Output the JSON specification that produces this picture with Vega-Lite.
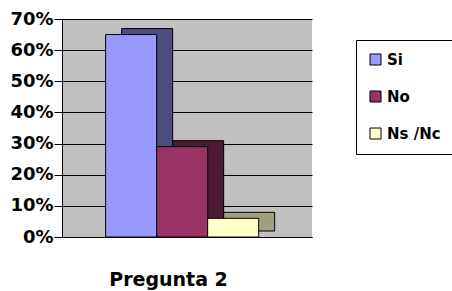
{
  "$schema": "https://vega.github.io/schema/vega-lite/v6.json",
  "autosize": {"type": "none"},
  "padding": {"left": 62, "top": 19, "right": 140, "bottom": 54},
  "width": 250,
  "height": 218,
  "background": "white",
  "config": {
    "view": {"fill": "#c0c0c0", "stroke": null},
    "font": "DejaVu Sans"
  },
  "data": {
    "values": [
      {"serie": "Si", "valor": 0.65},
      {"serie": "No", "valor": 0.29},
      {"serie": "Ns /Nc", "valor": 0.06}
    ]
  },
  "encoding": {
    "x": {
      "field": "serie",
      "type": "nominal",
      "sort": ["Si", "No", "Ns /Nc"],
      "scale": {"paddingInner": 0, "paddingOuter": 0.95, "align": 0.45},
      "axis": {
        "title": "Pregunta 2",
        "labels": false,
        "ticks": false,
        "domain": true,
        "domainColor": "black",
        "titleFont": "DejaVu Sans",
        "titleFontSize": 19,
        "titleFontWeight": "bold",
        "titleColor": "black",
        "titlePadding": 33,
        "titleX": 106,
        "titleAlign": "center"
      }
    },
    "y": {
      "field": "valor",
      "type": "quantitative",
      "scale": {"domain": [0, 0.7], "nice": false},
      "axis": {
        "title": null,
        "format": ".0%",
        "values": [0, 0.1, 0.2, 0.3, 0.4, 0.5, 0.6, 0.7],
        "labelFont": "DejaVu Sans",
        "labelFontSize": 18,
        "labelFontWeight": "bold",
        "labelColor": "black",
        "labelPadding": 1,
        "tickSize": 8,
        "tickColor": "black",
        "domainColor": "black",
        "grid": true,
        "gridColor": "black",
        "gridWidth": 1
      }
    }
  },
  "layer": [
    {
      "mark": {"type": "bar", "xOffset": 16, "yOffset": -6, "y2Offset": -6, "stroke": "black", "strokeWidth": 1},
      "encoding": {
        "color": {
          "field": "serie",
          "type": "nominal",
          "sort": ["Si", "No", "Ns /Nc"],
          "scale": {"domain": ["Si", "No", "Ns /Nc"], "range": ["#4d4d80", "#4d1a33", "#a0a080"]},
          "legend": null
        }
      }
    },
    {
      "mark": {"type": "bar", "stroke": "black", "strokeWidth": 1},
      "encoding": {
        "color": {
          "field": "serie",
          "type": "nominal",
          "sort": ["Si", "No", "Ns /Nc"],
          "scale": {"domain": ["Si", "No", "Ns /Nc"], "range": ["#9999ff", "#993366", "#ffffcc"]},
          "legend": {
            "title": null,
            "orient": "none",
            "legendX": 294,
            "legendY": 21,
            "strokeColor": "black",
            "padding": 12,
            "symbolType": "square",
            "symbolSize": 121,
            "symbolStrokeColor": "black",
            "symbolStrokeWidth": 1,
            "labelFont": "DejaVu Sans",
            "labelFontSize": 15,
            "labelFontWeight": "bold",
            "labelColor": "black",
            "rowPadding": 21,
            "labelOffset": 4
          }
        }
      }
    }
  ],
  "resolve": {"scale": {"color": "independent"}, "legend": {"color": "independent"}}
}
